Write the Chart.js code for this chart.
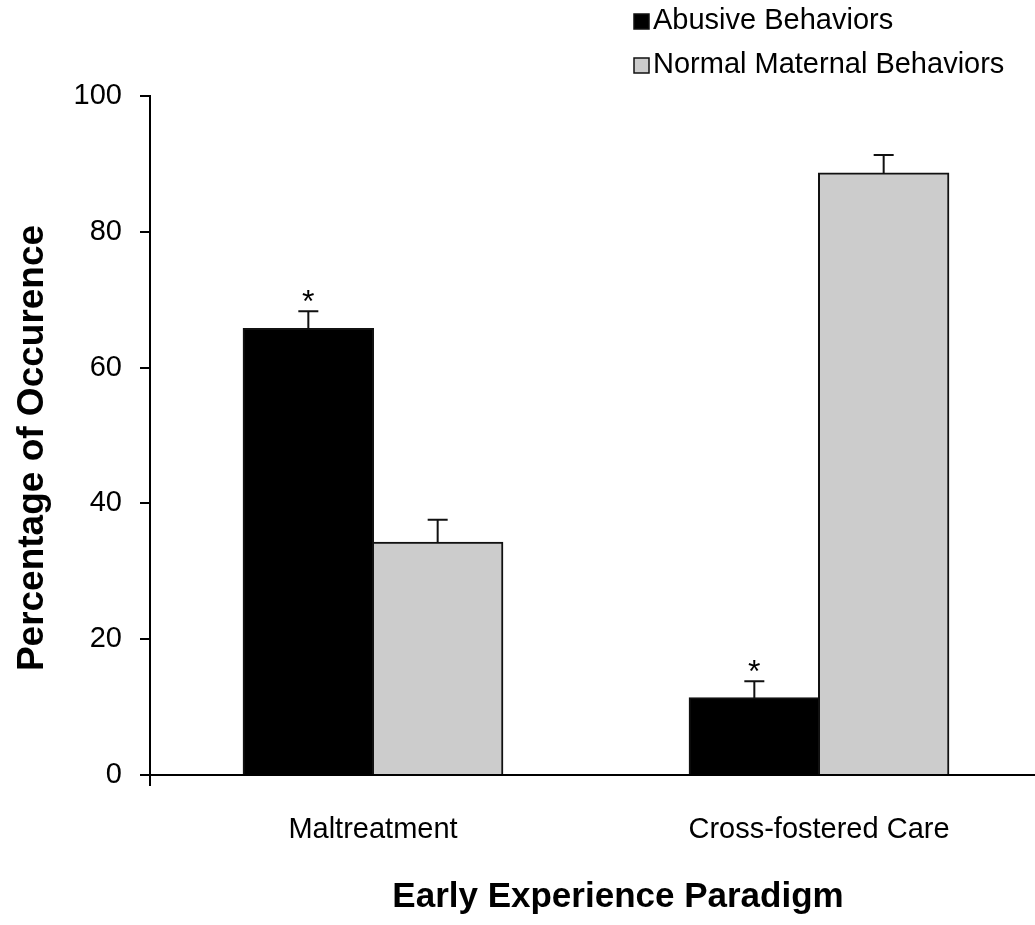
<!DOCTYPE html>
<html>
<head>
<meta charset="utf-8">
<script src="https://cdn.jsdelivr.net/npm/chart.js@4/dist/chart.umd.min.js"></script>
<style>
  html, body { margin: 0; padding: 0; background: #ffffff; }
  #wrap { width: 1035px; height: 925px; position: relative; }
</style>
</head>
<body>
<div id="wrap"><canvas id="chart" width="1035" height="925"></canvas></div>
<script>
// Experimental groups (x categories)
const categories = ['Maltreatment', 'Cross-fostered Care'];

// Mean percentage of occurrence per behavior type
const abusiveValues = [65.7, 11.3];
const normalValues = [34.2, 88.6];

// Standard error (upper whisker only)
const abusiveErrors = [2.6, 2.5];
const normalErrors = [3.4, 2.7];

// Significance markers drawn above the abusive-behavior bars
const abusiveMarks = ['*', '*'];

// Axis tick values
const yTicks = [0, 20, 40, 60, 80, 100];

const seriesLabels = ['Abusive Behaviors', 'Normal Maternal Behaviors'];
const xTitle = 'Early Experience Paradigm';
const yTitle = 'Percentage of Occurence';

const FONT = "'Liberation Sans', Arial, Helvetica, sans-serif";

// The x axis runs past the right edge of the canvas
const extendXAxis = {
  id: 'extendXAxis',
  afterLayout(chart) {
    const x = chart.scales.x;
    const extra = 7;
    x.right += extra;
    x.width += extra;
    chart.chartArea.right += extra;
    chart.chartArea.width += extra;
    x.configure();
  }
};

// Draws whiskers, asterisks, legend and axis titles on top of the bars
const annotations = {
  id: 'annotations',
  afterDatasetsDraw(chart) {
    const ctx = chart.ctx;
    const y = chart.scales.y;
    const errs = [abusiveErrors, normalErrors];
    const marks = [abusiveMarks, null];
    ctx.save();
    chart.data.datasets.forEach((ds, di) => {
      const meta = chart.getDatasetMeta(di);
      meta.data.forEach((bar, i) => {
        const v = ds.data[i];
        const top = y.getPixelForValue(v + errs[di][i]);
        const base = y.getPixelForValue(v);
        ctx.strokeStyle = '#111';
        ctx.lineWidth = 2;
        ctx.beginPath();
        ctx.moveTo(bar.x, base);
        ctx.lineTo(bar.x, top);
        ctx.moveTo(bar.x - 10, top);
        ctx.lineTo(bar.x + 10, top);
        ctx.stroke();
        if (marks[di] && marks[di][i]) {
          ctx.fillStyle = '#000';
          ctx.font = '32px ' + FONT;
          ctx.textAlign = 'center';
          ctx.textBaseline = 'alphabetic';
          ctx.fillText(marks[di][i], bar.x, top + 1);
        }
      });
    });
    ctx.restore();
  },
  afterDraw(chart) {
    const ctx = chart.ctx;
    const area = chart.chartArea;
    ctx.save();
    // small extension of the y axis below the baseline
    ctx.strokeStyle = '#000';
    ctx.lineWidth = 2;
    ctx.beginPath();
    ctx.moveTo(area.left, area.bottom);
    ctx.lineTo(area.left, area.bottom + 11);
    ctx.stroke();

    // legend
    const fills = ['#000000', '#cccccc'];
    const rows = [29, 73];
    ctx.font = '29px ' + FONT;
    ctx.textAlign = 'left';
    ctx.textBaseline = 'alphabetic';
    seriesLabels.forEach((lab, i) => {
      ctx.fillStyle = fills[i];
      ctx.fillRect(634, rows[i] - 15, 15, 15);
      ctx.strokeStyle = '#111';
      ctx.lineWidth = 1.5;
      ctx.strokeRect(634, rows[i] - 15, 15, 15);
      ctx.fillStyle = '#000';
      ctx.fillText(lab, 653, rows[i]);
    });

    // axis titles
    ctx.fillStyle = '#000';
    ctx.textAlign = 'center';
    ctx.textBaseline = 'middle';
    ctx.font = 'bold 35px ' + FONT;
    ctx.fillText(xTitle, 618, 897);
    ctx.font = 'bold 37px ' + FONT;
    ctx.translate(33, 448);
    ctx.rotate(-Math.PI / 2);
    ctx.fillText(yTitle, 0, 0);
    ctx.restore();
  }
};

new Chart(document.getElementById('chart'), {
  type: 'bar',
  data: {
    labels: categories,
    datasets: [
      {
        label: seriesLabels[0],
        data: abusiveValues,
        backgroundColor: '#000000',
        borderColor: '#111111',
        borderWidth: 2,
        inflateAmount: 1
      },
      {
        label: seriesLabels[1],
        data: normalValues,
        backgroundColor: '#cccccc',
        borderColor: '#111111',
        borderWidth: 2,
        inflateAmount: 1
      }
    ]
  },
  options: {
    responsive: false,
    animation: false,
    devicePixelRatio: 1,
    layout: { padding: { left: 0, right: 0, top: 96, bottom: 0 } },
    datasets: { bar: { categoryPercentage: 0.58, barPercentage: 1.0 } },
    plugins: {
      legend: { display: false },
      tooltip: { enabled: false },
      title: { display: false }
    },
    scales: {
      x: {
        grid: { display: false, drawTicks: false },
        border: { display: true, color: '#000', width: 2 },
        ticks: {
          color: '#000',
          font: { family: FONT, size: 29 },
          padding: 38,
          maxRotation: 0
        },
        afterFit(scale) { scale.height = 150; }
      },
      y: {
        min: 0,
        max: 100,
        afterBuildTicks(scale) { scale.ticks = yTicks.map(v => ({ value: v })); },
        grid: {
          display: true,
          drawOnChartArea: false,
          drawTicks: true,
          tickLength: 10,
          color: '#000',
          lineWidth: 2
        },
        border: { display: true, color: '#000', width: 2 },
        ticks: {
          color: '#000',
          font: { family: FONT, size: 29 },
          padding: 18
        },
        afterFit(scale) { scale.width = 150; }
      }
    }
  },
  plugins: [extendXAxis, annotations]
});
</script>
</body>
</html>
